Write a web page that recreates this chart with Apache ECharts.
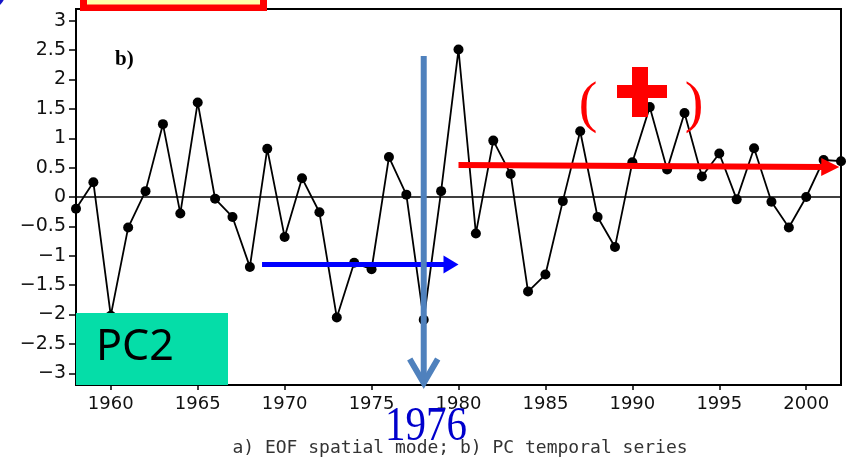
<!DOCTYPE html>
<html>
<head>
<meta charset="utf-8">
<script src="https://cdn.jsdelivr.net/npm/echarts@6/dist/echarts.min.js"></script>
<style>html,body{margin:0;padding:0;background:#fff}#c{width:850px;height:461px}</style>
</head>
<body>
<div id="c"></div>
<script>
const years = [1958,1959,1960,1961,1962,1963,1964,1965,1966,1967,1968,1969,1970,1971,1972,1973,1974,1975,1976,1977,1978,1979,1980,1981,1982,1983,1984,1985,1986,1987,1988,1989,1990,1991,1992,1993,1994,1995,1996,1997,1998,1999,2000,2001,2002];
const pc2 = [-0.2,0.25,-2.02,-0.52,0.1,1.24,-0.28,1.61,-0.03,-0.34,-1.19,0.82,-0.68,0.32,-0.26,-2.05,-1.12,-1.23,0.68,0.04,-2.09,0.1,2.51,-0.62,0.96,0.39,-1.61,-1.32,-0.07,1.12,-0.34,-0.85,0.59,1.53,0.47,1.43,0.35,0.74,-0.04,0.83,-0.08,-0.52,0.0,0.63,0.61];
const xTicks = [1960,1965,1970,1975,1980,1985,1990,1995,2000];
const yTicks = [-3,-2.5,-2,-1.5,-1,-0.5,0,0.5,1,1.5,2,2.5,3];
const blueArrow = [[1968.7,-1.15],[1980,-1.15]];
const redArrow = [[1980,0.545],[2001.9,0.51]];
const vArrow = [[1978,2.4],[1978,-3.2]];

const chart = echarts.init(document.getElementById('c'), null, {renderer:'canvas'});
const fmtY = v => (v < 0 ? '\u2212' : '') + Math.abs(v);
chart.setOption({
  animation:false,
  grid:{left:76,right:9,top:9,bottom:76,show:true,borderColor:'#000',borderWidth:2,backgroundColor:'transparent'},
  xAxis:{type:'value',min:1958,max:2002,
    axisLine:{onZero:false,lineStyle:{color:'#000',width:2}},
    axisTick:{customValues:xTicks,length:5,lineStyle:{color:'#000',width:1.5}},
    axisLabel:{customValues:xTicks,color:'#111',fontFamily:'DejaVu Sans',fontSize:18,margin:10,formatter:v=>String(v)},
    splitLine:{show:false}},
  yAxis:{type:'value',min:-3.2,max:3.2,
    axisLine:{onZero:false,lineStyle:{color:'#000',width:2}},
    axisTick:{customValues:yTicks,length:7,lineStyle:{color:'#000',width:1.5}},
    axisLabel:{customValues:yTicks,color:'#111',fontFamily:'DejaVu Sans',fontSize:19,margin:10,formatter:fmtY},
    splitLine:{show:false}},
  series:[{type:'line',data:years.map((y,i)=>[y,pc2[i]]),clip:false,
    symbol:'circle',symbolSize:10,itemStyle:{color:'#000'},
    lineStyle:{color:'#000',width:1.8},
    markLine:{silent:true,symbol:'none',label:{show:false},lineStyle:{color:'#000',width:1.5,type:'solid'},data:[{yAxis:0}]}
  }]
});

const P = p => chart.convertToPixel({gridIndex:0}, p);
const g = [];
function hArrow(pts, color, lw, hl, hh){
  const a = P(pts[0]), b = P(pts[1]);
  const ang = Math.atan2(b[1]-a[1], b[0]-a[0]);
  const bx = b[0]-hl*Math.cos(ang), by = b[1]-hl*Math.sin(ang);
  g.push({type:'polyline',z:100,shape:{points:[a,[bx+1,by]]},style:{stroke:color,lineWidth:lw,fill:null}});
  const nx = -Math.sin(ang)*hh, ny = Math.cos(ang)*hh;
  g.push({type:'polygon',z:100,shape:{points:[[b[0],b[1]],[bx+nx,by+ny],[bx-nx,by-ny]]},style:{fill:color}});
}
hArrow(blueArrow,'#0000ff',5,15,9);
hArrow(redArrow,'#ff0000',6,18,9);
const vt = P(vArrow[0]), vb = P(vArrow[1]);
g.push({type:'polyline',z:100,shape:{points:[vt,[vb[0],vb[1]-3]]},style:{stroke:'#4f81bd',lineWidth:6,fill:null}});
g.push({type:'polyline',z:100,shape:{points:[[vb[0]-14,vb[1]-26],[vb[0],vb[1]-2],[vb[0]+14,vb[1]-26]]},style:{stroke:'#4f81bd',lineWidth:6,fill:null,lineJoin:'miter'}});

g.push({type:'rect',z:100,shape:{x:76,y:313,width:152,height:72},style:{fill:'#05dda8'}});
g.push({type:'text',z:101,style:{x:96,y:348,text:'PC2',fontFamily:'Noto Sans',fontSize:43,fill:'#000',textVerticalAlign:'middle'}});
g.push({type:'rect',z:100,shape:{x:80,y:-10,width:187,height:21},style:{fill:'#ff0000'}});
g.push({type:'rect',z:101,shape:{x:87,y:-10,width:173,height:14.5},style:{fill:'#ffffa8'}});
g.push({type:'circle',z:100,shape:{cx:-9,cy:-6,r:14},style:{fill:'#1414c8'}});
g.push({type:'text',z:100,style:{x:115,y:60,text:'b)',fontFamily:'Liberation Serif',fontWeight:'bold',fontSize:21,fill:'#000',textVerticalAlign:'middle'}});
g.push({type:'text',z:100,style:{x:588,y:106,text:'(',fontFamily:'Liberation Serif',fontSize:56,fill:'#ff0000',textAlign:'center',textVerticalAlign:'middle'}});
g.push({type:'text',z:100,style:{x:694,y:106,text:')',fontFamily:'Liberation Serif',fontSize:56,fill:'#ff0000',textAlign:'center',textVerticalAlign:'middle'}});
g.push({type:'rect',z:100,shape:{x:632,y:67,width:16,height:50},style:{fill:'#ff0000'}});
g.push({type:'rect',z:100,shape:{x:617,y:85,width:50,height:13},style:{fill:'#ff0000'}});
g.push({type:'text',z:100,x:426,y:428,scaleY:1.16,style:{x:0,y:0,text:'1976',fontFamily:'Liberation Serif',fontSize:41,fill:'#0000cc',textAlign:'center',textVerticalAlign:'middle'}});
g.push({type:'text',z:99,style:{x:460,y:448,text:'a) EOF spatial mode; b) PC temporal series',fontFamily:'DejaVu Sans Mono',fontSize:18,fill:'#333',textAlign:'center',textVerticalAlign:'middle'}});
chart.setOption({graphic:{elements:g}});
</script>
</body>
</html>
